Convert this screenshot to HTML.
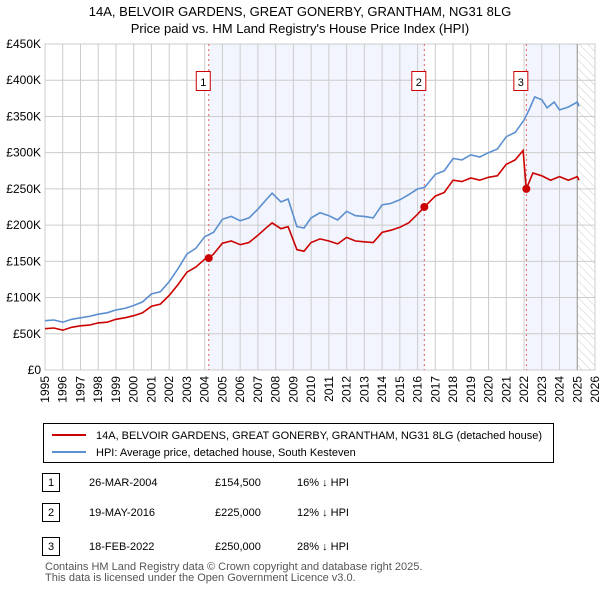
<!DOCTYPE html>
<html><head><meta charset="utf-8"><style>
body{margin:0;background:#fff;font-family:"Liberation Sans",sans-serif;}
</style></head><body>
<svg width="600" height="590" xmlns="http://www.w3.org/2000/svg" font-family="Liberation Sans, sans-serif">
<defs><pattern id="hatch" width="6" height="6" patternUnits="userSpaceOnUse" patternTransform="rotate(-45)"><line x1="0" y1="0" x2="0" y2="6" stroke="#ccc" stroke-width="1"/></pattern></defs>
<text x="300" y="16" text-anchor="middle" font-size="13">14A, BELVOIR GARDENS, GREAT GONERBY, GRANTHAM, NG31 8LG</text>
<text x="300" y="33" text-anchor="middle" font-size="13">Price paid vs. HM Land Registry's House Price Index (HPI)</text>
<g id="plot"></g>
<g id="legend">
<rect x="43.5" y="423.5" width="510" height="39" fill="#fff" stroke="#000"/>
<line x1="52" y1="435" x2="86" y2="435" stroke="#cc0000" stroke-width="2"/>
<text x="96" y="439" font-size="11">14A, BELVOIR GARDENS, GREAT GONERBY, GRANTHAM, NG31 8LG (detached house)</text>
<line x1="52" y1="452" x2="86" y2="452" stroke="#5b8fd0" stroke-width="2"/>
<text x="96" y="456" font-size="11">HPI: Average price, detached house, South Kesteven</text>
</g>
<g font-size="11">
<rect x="42.5" y="473.5" width="17" height="18" fill="#fff" stroke="#000"/><text x="51" y="486" text-anchor="middle">1</text>
<text x="89" y="486">26-MAR-2004</text><text x="215" y="486">£154,500</text><text x="297" y="486">16% ↓ HPI</text>
<rect x="42.5" y="503.5" width="17" height="18" fill="#fff" stroke="#000"/><text x="51" y="516" text-anchor="middle">2</text>
<text x="89" y="516">19-MAY-2016</text><text x="215" y="516">£225,000</text><text x="297" y="516">12% ↓ HPI</text>
<rect x="42.5" y="537.5" width="17" height="18" fill="#fff" stroke="#000"/><text x="51" y="550" text-anchor="middle">3</text>
<text x="89" y="550">18-FEB-2022</text><text x="215" y="550">£250,000</text><text x="297" y="550">28% ↓ HPI</text>
</g>
<text x="45" y="570" font-size="11" fill="#555">Contains HM Land Registry data © Crown copyright and database right 2025.</text>
<text x="45" y="581" font-size="11" fill="#555">This data is licensed under the Open Government Licence v3.0.</text>
</svg>
<script>
const hpiYears=[1995,1995.5,1996,1996.5,1997,1997.5,1998,1998.5,1999,1999.5,2000,2000.5,2001,2001.5,2002,2002.5,2003,2003.5,2004,2004.5,2005,2005.5,2006,2006.5,2007,2007.5,2007.8,2008.3,2008.7,2009.2,2009.6,2010,2010.5,2011,2011.5,2012,2012.5,2013,2013.5,2014,2014.5,2015,2015.5,2016,2016.4,2017,2017.5,2018,2018.5,2019,2019.5,2020,2020.5,2021,2021.5,2022,2022.3,2022.6,2023,2023.3,2023.7,2024,2024.5,2025,2025.1];
const hpiValues=[68,69,66,70,72,74,77,79,83,85,89,94,105,108,122,140,160,168,184,190,208,212,206,210,222,236,244,232,236,198,196,210,217,213,207,219,213,212,210,228,230,235,242,250,252,270,275,292,290,297,294,300,305,322,328,345,360,377,373,362,370,359,363,370,364];
const paidYears=[1995,1995.5,1996,1996.5,1997,1997.5,1998,1998.5,1999,1999.5,2000,2000.5,2001,2001.5,2002,2002.5,2003,2003.5,2004,2004.23,2004.5,2005,2005.5,2006,2006.5,2007,2007.5,2007.8,2008.3,2008.7,2009.2,2009.6,2010,2010.5,2011,2011.5,2012,2012.5,2013,2013.5,2014,2014.5,2015,2015.5,2016,2016.38,2017,2017.5,2018,2018.5,2019,2019.5,2020,2020.5,2021,2021.5,2021.95,2022.13,2022.5,2023,2023.5,2024,2024.5,2025,2025.1];
const paidValues=[57,58,55,59,61,62,65,66,70,72,75,79,88,91,103,118,135,142,153,154.5,160,175,178,173,176,186,197,203,195,198,166,164,176,181,178,174,183,178,177,176,190,193,197,203,215,225,240,245,262,260,265,262,266,268,284,290,303,250,272,268,262,267,262,267,262];
const sales=[{n:"1",y:2004.23,v:154.5},{n:"2",y:2016.38,v:225},{n:"3",y:2022.13,v:250}];
const yTicks=[0,50,100,150,200,250,300,350,400,450];
const xTicks=[1995,1996,1997,1998,1999,2000,2001,2002,2003,2004,2005,2006,2007,2008,2009,2010,2011,2012,2013,2014,2015,2016,2017,2018,2019,2020,2021,2022,2023,2024,2025,2026];
const X0=45,X1=595,Y0=370,Y1=44;
const xs=y=>X0+(y-1995)/31*(X1-X0);
const ys=v=>Y0-v/450*(Y0-Y1);
const NS="http://www.w3.org/2000/svg",g=document.getElementById('plot');
function mk(t,a,p){const e=document.createElementNS(NS,t);for(const k in a)e.setAttribute(k,a[k]);(p||g).appendChild(e);return e;}
let e;
e=mk('rect',{x:xs(sales[0].y),y:Y1,width:xs(sales[1].y)-xs(sales[0].y),height:Y0-Y1,fill:'#f2f5fd'});


e=mk('rect',{x:xs(sales[2].y),y:Y1,width:xs(2025.0)-xs(sales[2].y),height:Y0-Y1,fill:'#f2f5fd'});


e=mk('rect',{x:xs(2025.0),y:Y1,width:X1-xs(2025.0),height:Y0-Y1,fill:'url(#hatch)'});


for(const t of xTicks){if(t==1995||t==2026)continue;
e=mk('line',{x1:xs(t),x2:xs(t),y1:Y1,y2:Y0,stroke:'#ccc'});

}
for(const t of yTicks){
e=mk('line',{x1:X0,x2:X1,y1:ys(t),y2:ys(t),stroke:'#ccc'});


e=mk('text',{x:X0-4,y:ys(t)+4,'text-anchor':'end','font-size':12});e.textContent='£'+(t?t+'K':'0');

}
for(const t of xTicks){
const tx=xs(t)+4,ty=376;
e=mk('text',{x:tx,y:ty,'text-anchor':'end','font-size':12,transform:'rotate(-90 '+tx+' '+ty+')'});e.textContent=t;

}
e=mk('rect',{x:X0,y:Y1,width:X1-X0,height:Y0-Y1,fill:'none',stroke:'#ccc'});


e=mk('line',{x1:xs(2025.0),x2:xs(2025.0),y1:Y1,y2:Y0,stroke:'#999'});


for(const s of sales){
e=mk('line',{x1:xs(s.y),x2:xs(s.y),y1:Y1,y2:Y0,stroke:'#e06060','stroke-dasharray':'2,3'});

}
function path(xa,va,col,name){let d='';xa.forEach((y,i)=>{d+=(i?'L':'M')+xs(y).toFixed(1)+','+ys(va[i]).toFixed(1);});
const p=mk('path',{d:d,fill:'none',stroke:col,'stroke-width':1.6});

}
path(hpiYears,hpiValues,'#5b8fd0','hpi-line');
path(paidYears,paidValues,'#cc0000','price-paid-line');
for(const s of sales){
e=mk('circle',{cx:xs(s.y),cy:ys(s.v),r:4,fill:'#cc0000'});


e=mk('rect',{x:xs(s.y)-12.5,y:71.5,width:14,height:19,fill:'#fff',stroke:'#cc0000'});


e=mk('text',{x:xs(s.y)-5.5,y:86,'text-anchor':'middle','font-size':11});e.textContent=s.n;

}
</script>
</body></html>
